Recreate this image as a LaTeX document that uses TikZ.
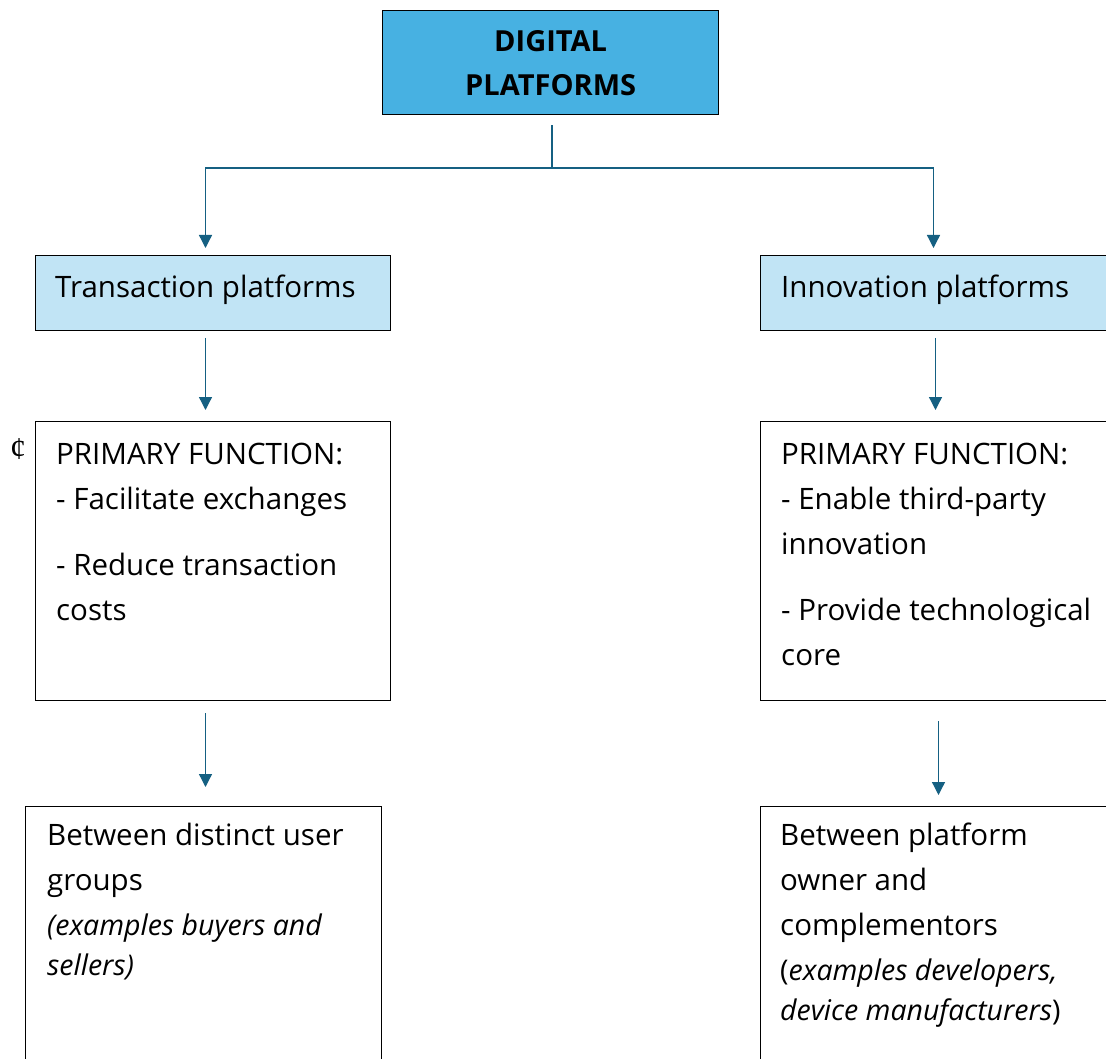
\documentclass[tikz,border=0pt]{standalone}
\usepackage{fontspec}
\setmainfont{Open Sans}
\newfontfamily\centfont{Liberation Serif}
\usetikzlibrary{arrows.meta,positioning}

\definecolor{headblue}{HTML}{47B1E2}
\definecolor{paleblue}{HTML}{C1E4F5}
\definecolor{flowblue}{HTML}{156082}

\tikzset{
  box/.style={draw=black, line width=1pt, minimum width=355pt, inner sep=0pt, anchor=north west},
  flow/.style={draw=flowblue, line width=1.3pt},
  flowarrow/.style={flow, -{Triangle[width=13pt,length=13pt]}},
  boxtext/.style={anchor=base west, inner sep=0pt, align=left, font=\fontsize{29.5}{45}\selectfont},
  exampletext/.style={boxtext, font=\fontsize{28.5}{40}\selectfont}
}

\begin{document}
\begin{tikzpicture}[x=1pt,y=-1pt]
  \useasboundingbox (0,0) rectangle (1106,1059);
  \clip (0,0) rectangle (1106,1059);
  \fill[white] (0,0) rectangle (1106,1059);

  % top of the tree
  \node[box, fill=headblue, minimum width=336pt, minimum height=104pt, line width=1.3pt] (digital) at (382,10) {};
  \node[align=center, font=\fontsize{29}{44}\selectfont\bfseries] (digitaltxt) at (digital.center) {DIGITAL\\PLATFORMS};
  \coordinate (split) at (552,168);

  % the two kinds of platform
  \node[box, fill=paleblue, minimum height=75pt] (trans) at (35,255) {};
  \node[box, fill=paleblue, minimum height=75pt] (innov) at (760,255) {};
  \node[boxtext] (transtxt) at ([shift={(20,43)}]trans.north west) {Transaction platforms};
  \node[boxtext] (innovtxt) at ([shift={(21,43)}]innov.north west) {Innovation platforms};

  % primary functions (base = last line)
  \node[box, minimum height=279pt] (funcL) at (35,421) {};
  \node[box, minimum height=279pt] (funcR) at (760,421) {};
  \node[boxtext] (funcLtxt) at ([shift={(21,199)}]funcL.north west)
    {PRIMARY FUNCTION:\\- Facilitate exchanges\\[21pt]- Reduce transaction\\costs};
  \node[boxtext] (funcRtxt) at ([shift={(21,244)}]funcR.north west)
    {PRIMARY FUNCTION:\\- Enable third-party\\innovation\\[21pt]- Provide technological\\core};
  \node[font=\centfont\fontsize{32}{32}\selectfont, inner sep=0pt] (cent) at (18,449) {¢};

  % who meets on the platform
  \node[box, minimum width=356pt, minimum height=280pt] (sideL) at (25,806) {};
  \node[box, minimum height=280pt] (sideR) at (760,806) {};
  \node[boxtext] (sideLtxt) at ([shift={(22,84)}]sideL.north west) {Between distinct user\\groups};
  \node[exampletext, font=\fontsize{28.5}{40}\selectfont\itshape] (sideLex) at ([shift={(22,169)}]sideL.north west)
    {(examples buyers and\\sellers)};
  \node[boxtext] (sideRtxt) at ([shift={(20,129)}]sideR.north west) {Between platform\\owner and\\complementors};
  \node[exampletext] (sideRex) at ([shift={(20,214)}]sideR.north west)
    {(\textit{examples developers,}\\\textit{device manufacturers})};

  % connectors
  \draw[flow, shorten <=10pt] (digital.south -| split) -- (split);
  \draw[flowarrow, shorten >=7pt] (split) -| ([xshift=-7.5pt]trans.north);
  \draw[flowarrow, shorten >=7pt] (split) -| ([xshift=-4.5pt]innov.north);
  \draw[flowarrow, shorten <=7pt, shorten >=11pt] ([xshift=-7.5pt]trans.south) -- ([xshift=-7.5pt]funcL.north);
  \draw[flowarrow, shorten <=7pt, shorten >=11pt] ([xshift=-2.5pt]innov.south) -- ([xshift=-2.5pt]funcR.north);
  \draw[flowarrow, shorten <=12pt, shorten >=19pt] ([xshift=-7.5pt]funcL.south) -- ([xshift=2pt]sideL.north);
  \draw[flowarrow, shorten <=20pt, shorten >=11pt] ([xshift=0.5pt]funcR.south) -- ([xshift=0.5pt]sideR.north);
\end{tikzpicture}
\end{document}
